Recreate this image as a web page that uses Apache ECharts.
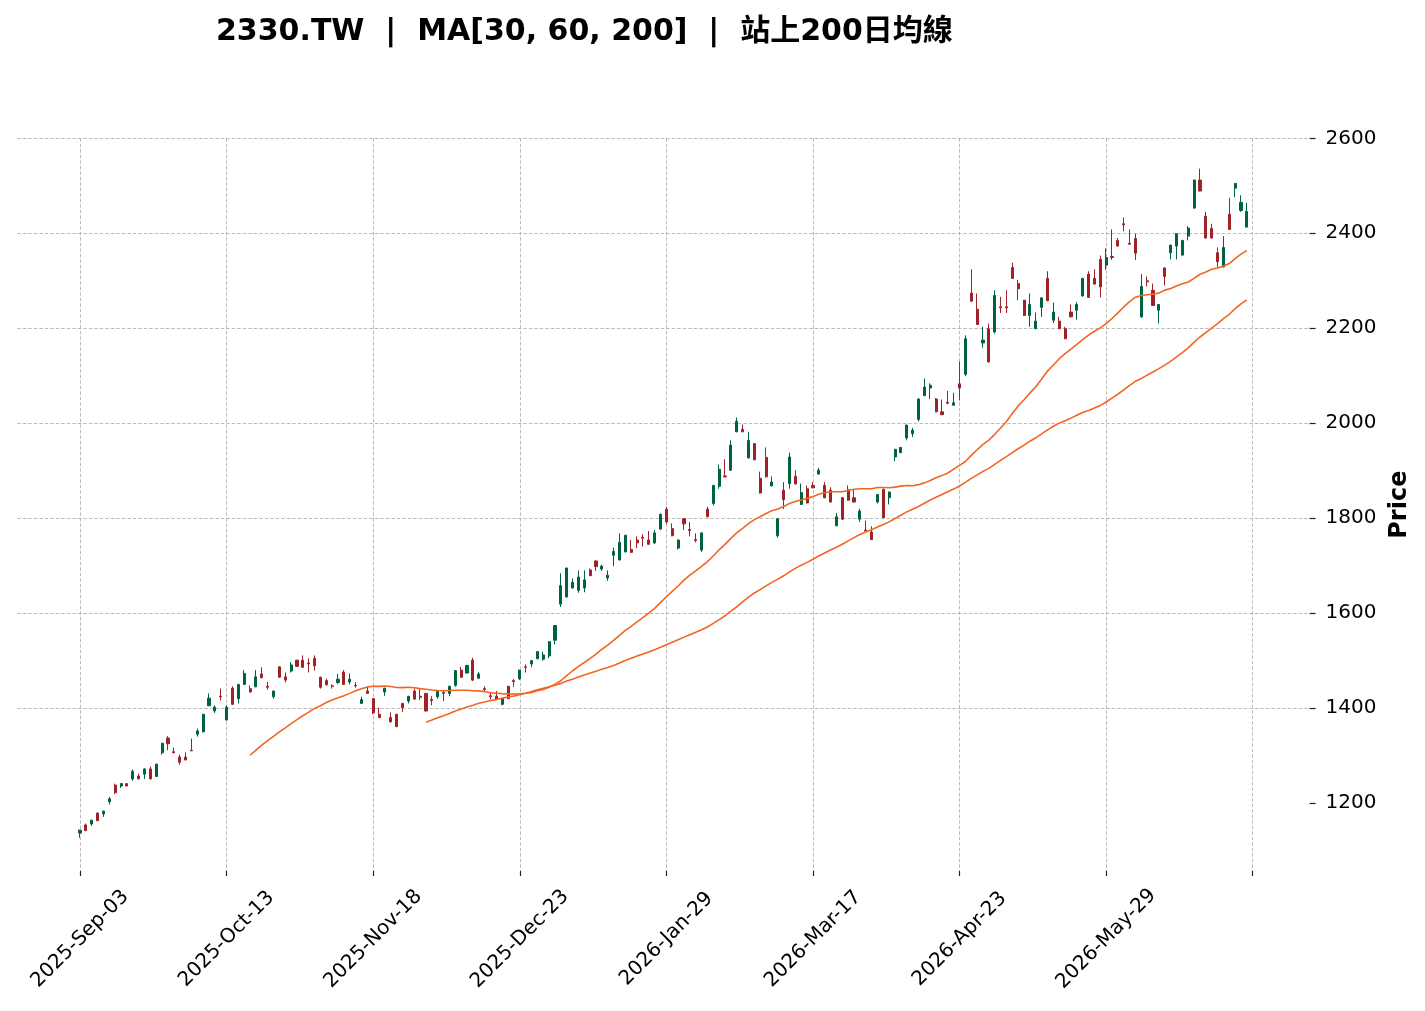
<!DOCTYPE html>
<html><head><meta charset="utf-8">
<script src="https://cdn.jsdelivr.net/npm/echarts@6/dist/echarts.min.js"></script>
<style>html,body{margin:0;padding:0;background:#fff}#c{width:1425px;height:1011px}</style>
</head><body><div id="c"></div>
<script>
const opens = [1137,1154,1156,1179,1177,1203,1238,1236,1241,1251,1257,1261,1272,1256,1306,1337,1308,1297,1297,1311,
1345,1350,1405,1394,1425,1375,1442,1420,1450,1441,1445,1472,1446,1424,1487,1466,1478,1501,1501,1495,
1505,1465,1458,1447,1454,1476,1455,1448,1410,1436,1420,1387,1434,1380,1387,1410,1415,1436,1425,1431,
1418,1424,1433,1431,1448,1480,1474,1501,1463,1441,1426,1425,1408,1446,1458,1462,1487,1493,1504,1503,
1510,1543,1619,1634,1653,1648,1653,1691,1710,1693,1674,1722,1712,1729,1734,1754,1760,1754,1748,1777,
1819,1778,1737,1799,1776,1755,1733,1819,1831,1867,1889,1901,1982,1987,1927,1957,1884,1928,1868,1763,
1859,1873,1888,1829,1862,1869,1893,1869,1859,1784,1843,1860,1843,1798,1775,1771,1834,1861,1843,1929,
1938,1969,1978,2008,2058,2074,2051,2024,2044,2038,2083,2103,2274,2240,2169,2199,2192,2245,2245,2328,
2294,2259,2227,2199,2244,2305,2217,2215,2199,2234,2238,2268,2314,2305,2345,2333,2351,2385,2420,2379,
2389,2224,2300,2280,2238,2327,2359,2373,2354,2394,2453,2512,2436,2410,2359,2329,2440,2495,2448,2413];
const highs = [1144,1157,1165,1180,1184,1213,1241,1242,1242,1271,1262,1273,1277,1283,1327,1341,1317,1302,1307,1336,
1357,1388,1431,1406,1441,1406,1446,1451,1480,1448,1480,1486,1455,1437,1488,1475,1497,1502,1511,1505,
1511,1466,1462,1450,1472,1480,1473,1455,1424,1445,1421,1401,1443,1391,1388,1411,1426,1441,1441,1432,
1425,1436,1438,1447,1480,1487,1491,1506,1476,1446,1434,1436,1421,1447,1461,1481,1492,1501,1520,1519,
1541,1575,1684,1696,1673,1690,1690,1694,1711,1702,1690,1738,1768,1765,1754,1762,1766,1773,1775,1810,
1824,1789,1755,1800,1792,1768,1770,1824,1870,1913,1924,1964,2012,1997,1982,1958,1898,1949,1888,1800,
1876,1938,1901,1873,1869,1876,1906,1876,1865,1811,1844,1869,1861,1820,1795,1783,1851,1862,1856,1946,
1950,1997,1990,2052,2094,2084,2053,2050,2068,2064,2130,2185,2324,2273,2203,2210,2280,2266,2280,2338,
2302,2260,2273,2233,2264,2320,2254,2224,2203,2250,2255,2306,2320,2324,2353,2368,2408,2390,2433,2408,
2399,2314,2309,2294,2251,2328,2376,2400,2386,2415,2513,2536,2445,2420,2370,2394,2475,2506,2480,2464];
const lows = [1127,1141,1152,1162,1171,1197,1219,1232,1235,1247,1250,1251,1250,1255,1302,1311,1305,1281,1290,1310,
1340,1349,1404,1390,1416,1374,1407,1410,1449,1433,1444,1463,1439,1420,1464,1454,1475,1487,1485,1475,
1479,1441,1448,1441,1450,1449,1450,1443,1409,1430,1387,1379,1426,1370,1360,1392,1410,1418,1417,1393,
1406,1420,1415,1425,1445,1464,1473,1457,1462,1434,1418,1417,1406,1419,1445,1459,1475,1486,1503,1500,
1505,1534,1613,1633,1652,1643,1644,1678,1689,1689,1668,1699,1711,1728,1727,1737,1740,1744,1746,1776,
1788,1762,1734,1775,1762,1749,1729,1802,1827,1862,1886,1900,1981,1981,1926,1922,1852,1886,1867,1759,
1819,1862,1871,1828,1831,1863,1892,1842,1833,1783,1796,1837,1833,1792,1772,1754,1831,1800,1829,1920,
1937,1964,1971,2004,2057,2051,2023,2017,2040,2037,2048,2099,2256,2207,2159,2128,2189,2232,2232,2304,
2259,2226,2203,2198,2224,2257,2211,2198,2177,2223,2218,2267,2264,2292,2265,2323,2344,2372,2404,2377,
2344,2222,2288,2247,2210,2290,2345,2345,2353,2385,2452,2488,2389,2389,2328,2328,2407,2476,2445,2412];
const closes = [1143,1142,1164,1163,1183,1209,1222,1241,1236,1267,1251,1272,1251,1282,1326,1325,1306,1286,1291,1310,
1352,1387,1421,1402,1424,1402,1408,1450,1473,1434,1466,1464,1444,1436,1465,1459,1491,1488,1486,1493,
1489,1444,1449,1446,1461,1450,1461,1447,1418,1431,1390,1380,1442,1371,1361,1401,1425,1419,1423,1394,
1416,1435,1431,1446,1479,1465,1490,1459,1472,1439,1424,1418,1420,1420,1456,1480,1486,1500,1519,1512,
1540,1574,1658,1695,1665,1676,1670,1679,1698,1699,1680,1730,1749,1764,1728,1748,1758,1745,1769,1808,
1792,1763,1754,1788,1774,1753,1769,1803,1869,1903,1887,1954,2004,1982,1964,1923,1853,1887,1876,1799,
1839,1929,1872,1854,1832,1864,1901,1843,1834,1803,1798,1838,1834,1815,1773,1755,1850,1801,1855,1945,
1949,1996,1985,2051,2076,2080,2024,2018,2042,2043,2074,2178,2257,2208,2175,2129,2269,2243,2243,2305,
2283,2227,2250,2215,2264,2258,2234,2199,2178,2224,2250,2305,2265,2293,2287,2349,2349,2373,2418,2377,
2358,2288,2298,2248,2250,2309,2375,2399,2385,2411,2512,2489,2390,2390,2340,2370,2408,2505,2465,2446];
const maPeriods = [30, 60, 200];
const xTickIndex = [0, 25, 50, 75, 100, 125, 150, 175, 200];
const xLabelIndex = [0, 25, 50, 75, 100, 125, 150, 175];
const xTickLabels = ['2025-Sep-03','2025-Oct-13','2025-Nov-18','2025-Dec-23','2026-Jan-29','2026-Mar-17','2026-Apr-23','2026-May-29'];
const yTicks = [1200, 1400, 1600, 1800, 2000, 2200, 2400, 2600];

function sma(n) {
  const out = [];
  for (let i = n - 1; i < closes.length; i++) {
    let s = 0;
    for (let j = i - n + 1; j <= i; j++) s += closes[j];
    out.push([i, s / n]);
  }
  return out;
}
const candleData = closes.map((c, i) => [i, opens[i], c, lows[i], highs[i]]);
const FONT = "'DejaVu Sans', 'Noto Sans CJK TC', sans-serif";
const gridLine = { color: '#a9a9a9', width: 0.8, type: [3.5, 2] };

const chart = echarts.init(document.getElementById('c'));
chart.setOption({
  animation: false,
  backgroundColor: '#fff',
  title: {
    text: '2330.TW  |  MA[30, 60, 200]  |  站上200日均線',
    left: 211, top: 12,
    textStyle: { fontFamily: FONT, fontSize: 30, fontWeight: 'bold', color: '#000' }
  },
  grid: { left: 17.3, right: 115.4, top: 138.3, bottom: 140 },
  xAxis: {
    type: 'value', min: -10.7, max: 209.7,
    axisLine: { show: false, onZero: false },
    axisTick: { customValues: xTickIndex, length: 5, lineStyle: { color: '#222', width: 1.2 } },
    axisLabel: {
      customValues: xLabelIndex,
      formatter: v => xTickLabels[xLabelIndex.indexOf(v)] || '',
      rotate: 45, align: 'center', verticalAlign: 'middle', margin: 68,
      fontFamily: FONT, fontSize: 20, color: '#000'
    },
    splitLine: { show: true, lineStyle: gridLine }
  },
  yAxis: {
    type: 'value', position: 'right', min: 1057, max: 2600, scale: true,
    name: 'Price', nameLocation: 'middle', nameRotate: 90, nameGap: 69,
    nameTextStyle: { fontFamily: FONT, fontSize: 24, fontWeight: 'bold', color: '#000' },
    axisLine: { show: false, onZero: false },
    axisTick: { show: true, customValues: yTicks, length: 6, lineStyle: { color: '#222', width: 1.2 } },
    axisLabel: { customValues: yTicks, formatter: v => String(v), margin: 16, fontFamily: FONT, fontSize: 20, color: '#000' },
    splitLine: { show: true, showMinLine: false, lineStyle: gridLine }
  },
  series: [
    {
      type: 'candlestick',
      data: candleData,
      encode: { x: 0, y: [1, 2, 3, 4] },
      barWidth: 2.6,
      itemStyle: { color: '#006340', color0: '#A02128', borderColor: '#006340', borderColor0: '#A02128', borderWidth: 1 }
    },
    ...maPeriods.map(p => ({
      type: 'line', name: 'MA' + p, data: sma(p), showSymbol: false, symbol: 'none',
      lineStyle: { color: '#F26522', width: 1.6 }, z: 3
    }))
  ]
});
</script></body></html>
